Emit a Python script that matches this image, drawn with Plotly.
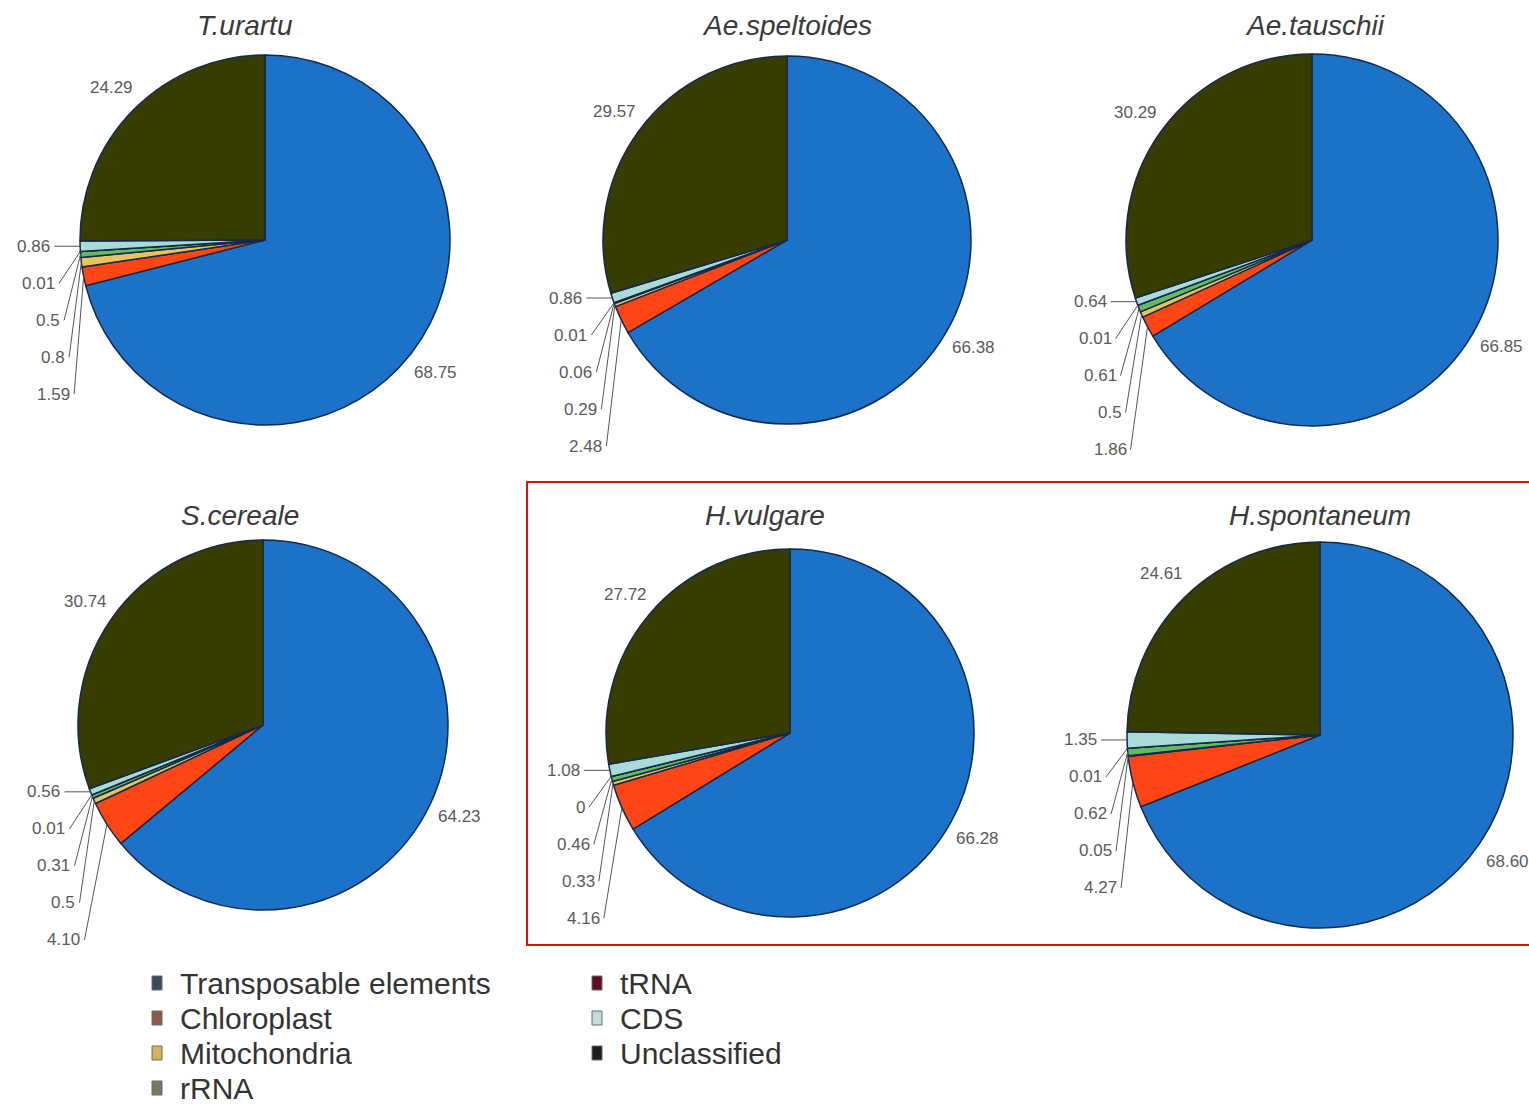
import math
import plotly.graph_objects as go

# Genome composition of six Triticeae species (% of sequence)
categories = ["Transposable elements", "Chloroplast", "Mitochondria", "rRNA",
              "tRNA", "CDS", "Unclassified"]
species = ["T.urartu", "Ae.speltoides", "Ae.tauschii",
           "S.cereale", "H.vulgare", "H.spontaneum"]

transposable = ["68.75", "66.38", "66.85", "64.23", "66.28", "68.60"]
chloroplast = ["1.59", "2.48", "1.86", "4.10", "4.16", "4.27"]
mitochondria = ["0.8", "0.29", "0.5", "0.5", "0.33", "0.05"]
rrna = ["0.5", "0.06", "0.61", "0.31", "0.46", "0.62"]
trna = ["0.01", "0.01", "0.01", "0.01", "0", "0.01"]
cds = ["0.86", "0.86", "0.64", "0.56", "1.08", "1.35"]
unclassified = ["24.29", "29.57", "30.29", "30.74", "27.72", "24.61"]

series = [transposable, chloroplast, mitochondria, rrna, trna, cds, unclassified]

slice_colors = ["#1c72c9", "#ff4614", "#e9c35e", "#62bb62", "#6e0a16", "#a9dcd8", "#373c00"]
legend_colors = ["#3b4a5e", "#8b5a48", "#d2b25a", "#6f7d63", "#5c1022", "#c4dcdc", "#1c1c1c"]

W, H = 1529, 1104
FONT = "Liberation Sans, Arial, sans-serif"

# panel geometry in pixels: pie centre, radius, title anchor
pie_geom = [(265, 240, 185), (787, 240, 184), (1312, 240, 186),
            (263, 725, 185), (790, 733, 184), (1320, 735, 193)]
title_xy = [(245, 25), (787, 25), (1315, 25), (240, 515), (765, 515), (1320, 515)]


def px(x):
    return x / W


def py(y):
    return 1 - y / H


fig = go.Figure()
annotations = []
shapes = []

for i, name in enumerate(species):
    texts = [s[i] for s in series]
    vals = [float(t) for t in texts]
    total = sum(vals)
    cx, cy, r = pie_geom[i]

    fig.add_trace(go.Pie(
        labels=categories, values=vals, sort=False, direction="clockwise",
        rotation=0, textinfo="none", hoverinfo="label+value",
        marker=dict(colors=slice_colors, line=dict(color="#15294a", width=1.5)),
        domain=dict(x=[px(cx - r), px(cx + r)], y=[py(cy + r), py(cy - r)]),
        showlegend=False,
    ))

    # angle (clockwise from 12 o'clock) at the middle of each slice
    mids = []
    acc = 0.0
    for v in vals:
        mids.append(2 * math.pi * (acc + v / 2) / total)
        acc += v

    def edge(theta, rad):
        return cx + rad * math.sin(theta), cy - rad * math.cos(theta)

    # large slices labelled just outside the rim
    for j in (0, 6):
        lx, ly = edge(mids[j], r * 1.17)
        annotations.append(dict(
            x=px(lx), y=py(ly), xref="paper", yref="paper", text=texts[j],
            showarrow=False, xanchor="center", yanchor="middle",
            font=dict(family=FONT, size=17, color="#5a5a5a")))

    # small slices: stacked labels with leader lines to the rim
    top_x, top_y = edge(mids[5], r)
    for k, j in enumerate([5, 4, 3, 2, 1]):
        ex, ey = edge(mids[j], r)
        lx = top_x - 28 + 5 * k
        ly = top_y + 37 * k
        annotations.append(dict(
            x=px(lx), y=py(ly), xref="paper", yref="paper", text=texts[j],
            showarrow=False, xanchor="right", yanchor="middle",
            font=dict(family=FONT, size=17, color="#5a5a5a")))
        shapes.append(dict(
            type="line", xref="paper", yref="paper",
            x0=px(lx + 2), y0=py(ly), x1=px(ex), y1=py(ey),
            line=dict(color="#555555", width=1)))

    tx, ty = title_xy[i]
    annotations.append(dict(
        x=px(tx), y=py(ty), xref="paper", yref="paper",
        text="<i>" + name + "</i>", showarrow=False,
        xanchor="center", yanchor="middle",
        font=dict(family=FONT, size=28, color="#3a3a3a")))

# legend in two columns
legend_cols = [(157, [0, 1, 2, 3]), (597, [4, 5, 6])]
for mx, idxs in legend_cols:
    for row, j in enumerate(idxs):
        y = 983 + 35 * row
        shapes.append(dict(
            type="rect", xref="paper", yref="paper",
            x0=px(mx - 5), x1=px(mx + 5), y0=py(y + 7), y1=py(y - 7),
            fillcolor=legend_colors[j], line=dict(color="#6a6a6a", width=1)))
        annotations.append(dict(
            x=px(mx + 21), y=py(y), xref="paper", yref="paper",
            text=categories[j], showarrow=False, xanchor="left", yanchor="middle",
            font=dict(family=FONT, size=30, color="#333333")))

# highlight box around the barley panels
shapes.append(dict(
    type="rect", xref="paper", yref="paper",
    x0=px(527), x1=px(1540), y0=py(945), y1=py(482),
    line=dict(color="#e01010", width=2), fillcolor="rgba(0,0,0,0)"))

fig.update_layout(
    width=W, height=H, margin=dict(l=0, r=0, t=0, b=0),
    paper_bgcolor="white", plot_bgcolor="white",
    annotations=annotations, shapes=shapes, showlegend=False,
)

fig.write_html("out.html")
